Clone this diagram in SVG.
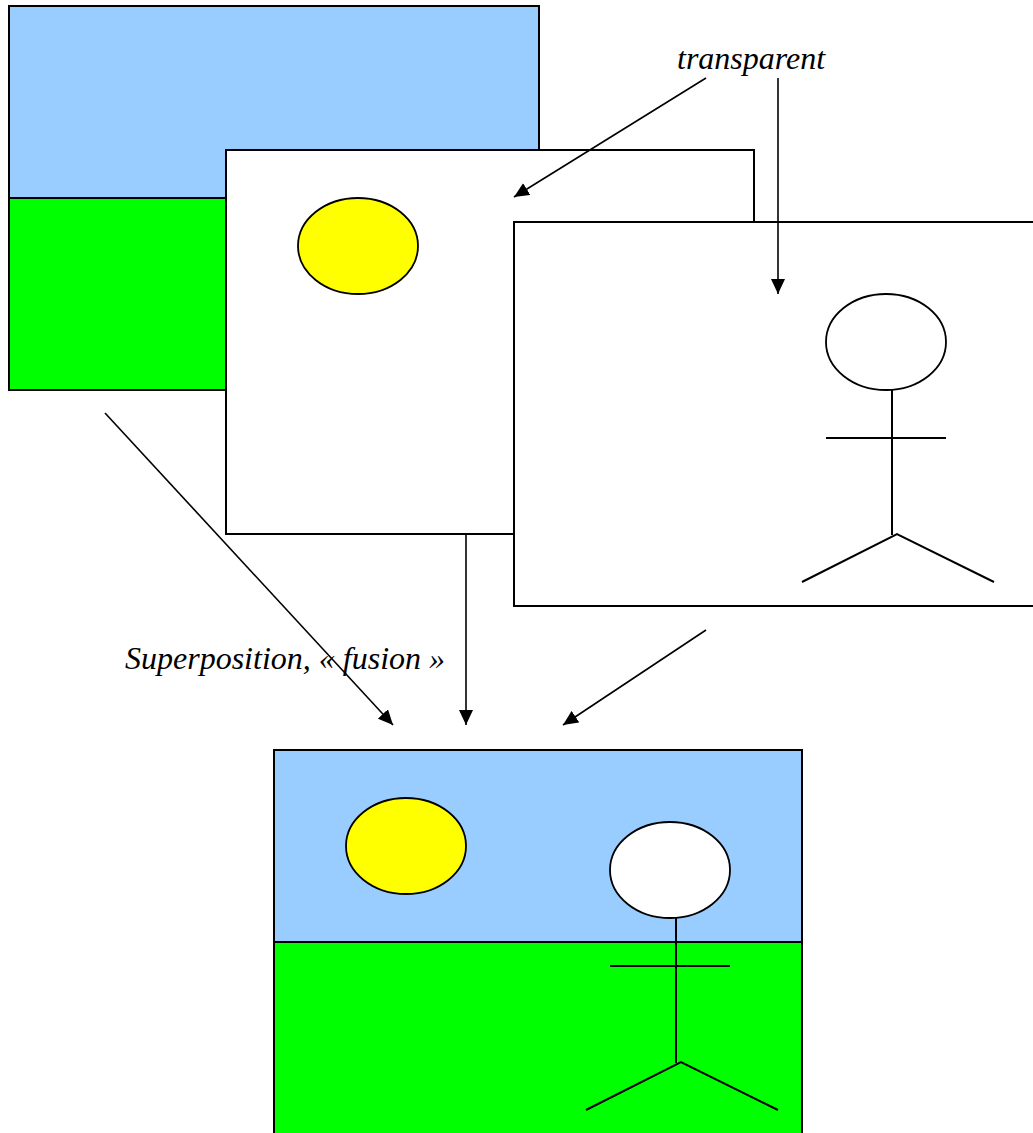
<svg xmlns="http://www.w3.org/2000/svg" width="1033" height="1133" viewBox="0 0 1033 1133">
  <defs>
    <marker id="arrow" markerWidth="15" markerHeight="14" refX="15" refY="7" orient="auto" markerUnits="userSpaceOnUse">
      <path d="M0,0 L15,7 L0,14 Z" fill="#000"/>
    </marker>
  </defs>
  <style>
    .frame { stroke: #000; stroke-width: 2; }
    .sky { fill: #99CCFF; }
    .grass { fill: #00FF00; }
    .blank { fill: #FFFFFF; }
    .sun { fill: #FFFF00; stroke: #000; stroke-width: 1.8; }
    .head { fill: #FFFFFF; stroke: #000; stroke-width: 1.8; }
    .limb { fill: none; stroke: #000; stroke-width: 2; }
    .conn { fill: none; stroke: #000; stroke-width: 1.6; marker-end: url(#arrow); }
    .label { font-family: "Liberation Serif", "Times New Roman", serif; font-style: italic; font-size: 32px; fill: #000; }
  </style>
  <rect width="1033" height="1133" fill="#FFFFFF"/>

  <!-- background layer: sky and grass -->
  <g id="layer-background">
    <rect class="sky frame" x="9" y="6" width="530" height="192"/>
    <rect class="grass frame" x="9" y="198" width="530" height="192"/>
  </g>

  <!-- sun layer on a transparent sheet -->
  <g id="layer-sun">
    <rect class="blank frame" x="226" y="150" width="528" height="384"/>
    <ellipse class="sun" cx="358" cy="246" rx="60" ry="48"/>
  </g>

  <!-- character layer on a transparent sheet -->
  <g id="layer-character">
    <rect class="blank frame" x="514" y="222" width="528" height="384"/>
    <ellipse class="head" cx="886" cy="342" rx="60" ry="48"/>
    <line class="limb" x1="892" y1="390" x2="892" y2="535"/>
    <line class="limb" x1="826" y1="438" x2="946" y2="438"/>
    <polyline class="limb" points="802,582 897,534 994,582"/>
  </g>

  <!-- merged result -->
  <g id="result">
    <rect class="sky frame" x="274" y="750" width="528" height="192"/>
    <rect class="grass frame" x="274" y="942" width="528" height="192"/>
    <ellipse class="sun" cx="406" cy="846" rx="60" ry="48"/>
    <ellipse class="head" cx="670" cy="870" rx="60" ry="48"/>
    <line class="limb" x1="676" y1="918" x2="676" y2="1063"/>
    <line class="limb" x1="610" y1="966" x2="730" y2="966"/>
    <polyline class="limb" points="586,1110 681,1062 778,1110"/>
  </g>

  <!-- labels -->
  <g id="label-transparent">
    <text class="label" x="677" y="69">transparent</text>
  </g>
  <g id="label-fusion">
    <text class="label" x="125" y="669">Superposition, « fusion »</text>
  </g>

  <!-- connectors -->
  <g id="connectors">
    <line class="conn" x1="706" y1="78" x2="514" y2="197"/>
    <line class="conn" x1="778" y1="78" x2="778" y2="294"/>
    <line class="conn" x1="105" y1="413" x2="393" y2="725"/>
    <line class="conn" x1="466" y1="534" x2="466" y2="725"/>
    <line class="conn" x1="706" y1="630" x2="563" y2="725"/>
  </g>
</svg>
